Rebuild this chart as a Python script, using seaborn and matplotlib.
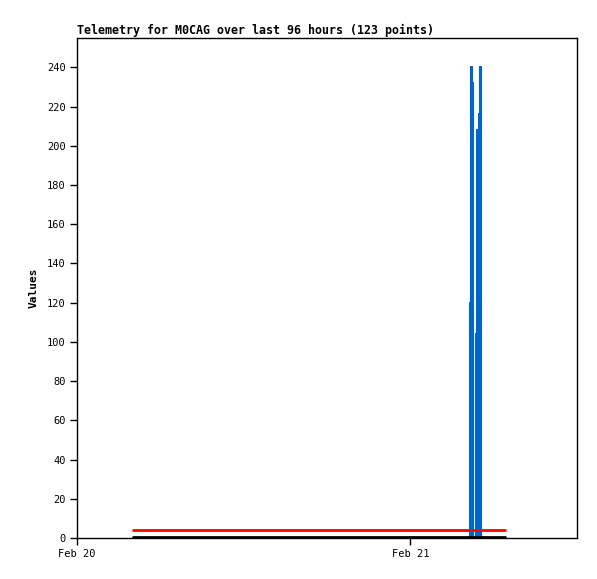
import numpy as np
import pandas as pd
import matplotlib
matplotlib.use("Agg")
import matplotlib.pyplot as plt
import matplotlib.dates as mdates
import seaborn as sns

# ---- data (hours after Feb 20 00:00) ----
base = pd.Timestamp("2024-02-20 00:00")
blue_hours = [28.324, 28.324, 28.324, 28.396, 28.396, 28.396, 28.468, 28.468, 28.468,
              28.757, 28.757, 28.757, 28.829, 28.829, 28.829, 28.937, 28.937, 28.937,
              29.045, 29.045, 29.045]
blue_vals = [0, 120, 0, 0, 240, 0, 0, 232, 0,
             0, 104, 0, 0, 208, 0, 0, 216, 0,
             0, 240, 0]
red_hours = [4.04, 30.8]
red_vals = [4, 4]
black_hours = [4.04, 30.8]
black_vals = [0.5, 0.5]
title = "Telemetry for M0CAG over last 96 hours (123 points)"
ylabel = "Values"
yticks = list(range(0, 241, 20))

def to_df(hours, vals):
    return pd.DataFrame({"t": [base + pd.Timedelta(hours=h) for h in hours], "v": vals})

sns.set_style("white")
plt.rcParams["font.family"] = ["DejaVu Sans Mono"]
plt.rcParams["text.color"] = "black"

fig = plt.figure(figsize=(5.97, 5.79), dpi=100)
ax = fig.add_axes([77/597, 1-538/579, 500/597, 500/579])

sns.lineplot(data=to_df(blue_hours, blue_vals), x="t", y="v", ax=ax,
             color="#0066cc", linewidth=2.2, zorder=2, estimator=None, sort=False)
sns.lineplot(data=to_df(red_hours, red_vals), x="t", y="v", ax=ax,
             color="#ff0000", linewidth=2, zorder=3)
sns.lineplot(data=to_df(black_hours, black_vals), x="t", y="v", ax=ax,
             color="black", linewidth=2, zorder=4)

ax.set_xlim(base, base + pd.Timedelta(hours=36))
ax.set_ylim(0, 255)
ax.set_yticks(yticks)
ax.set_xticks([base, base + pd.Timedelta(days=1)])
ax.xaxis.set_major_formatter(mdates.DateFormatter("%b %d"))
ax.tick_params(axis="both", direction="out", length=5, width=1, labelsize=7.5,
               colors="black", bottom=True, left=True, pad=3)
for s in ax.spines.values():
    s.set_color("black")
    s.set_linewidth(1)
ax.set_xlabel("")
ax.set_ylabel(ylabel, fontsize=8, fontweight="bold", labelpad=6, color="black")
ax.set_title(title, loc="left", fontsize=8.4, fontweight="bold", pad=3, color="black")

fig.savefig("out.png", dpi=100)
